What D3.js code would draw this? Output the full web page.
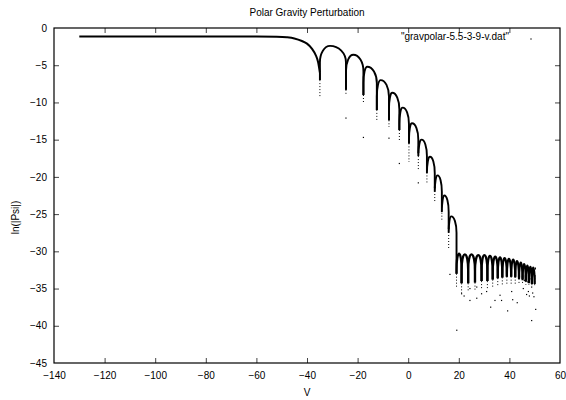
<!DOCTYPE html>
<html><head><meta charset="utf-8">
<script src="https://cdn.jsdelivr.net/npm/d3@7"></script>
<style>
body{margin:0;background:#fff}
svg{display:block}
text{font-family:"Liberation Sans",Arial,Helvetica,sans-serif;font-size:10px;fill:#000}
</style>
</head><body>
<svg id="chart" width="566" height="400"></svg>
<script>
// ---- data ----
const title = "Polar Gravity Perturbation";
const xLabel = "V";
const yLabel = "ln(|Psi|)";
const seriesName = "\"gravpolar-5.5-3-9-v.dat\"";
const xTicks = [-140,-120,-100,-80,-60,-40,-20,0,20,40,60];
const yTicks = [0,-5,-10,-15,-20,-25,-30,-35,-40,-45];

// smooth lead-in before the first zero
const leadV  = [-130, -60, -52, -48, -45, -42, -40, -38, -36.6, -35.6, -34.9];
const leadLn = [-1.15, -1.15, -1.18, -1.25, -1.4, -1.75, -2.1, -2.8, -3.6, -4.6, -6.0];

// zeros (cusps) of the ringing and how far the dense / dotted parts reach
const cuspV = [-34.9,-24.6,-17.7,-12.4,-7.6,-3.5,0.3,4.0,7.4,10.5,13.3,16.0,19.1,
  21.1,23.7,26.4,29.0,31.3,33.4,35.4,37.2,39.0,40.7,42.3,43.8,45.2,46.5,47.7,48.9,50.0];
const cuspDense = [-7.0,-8.3,-9.0,-11.0,-12.4,-13.7,-15.5,-16.8,-19.0,-21.5,-24.0,-27.0,-33.0,
  -34.3,-34.3,-34.2,-34.0,-34.0,-33.8,-33.6,-33.5,-33.4,-33.4,-33.4,-33.3,-33.3,-33.2,-33.2,-33.2,-33.2];
const cuspDotted = [-9.4,-8.9,-10.1,-12.4,-13.3,-15.1,-18.0,-19.1,-21.0,-23.5,-26.0,-29.7,-35.0,
  -35.6,-35.5,-35.4,-35.2,-35.2,-35.0,-34.8,-34.7,-34.6,-34.6,-34.6,-34.5,-34.5,-34.5,-34.5,-34.6,-34.8];

// lobe maxima between consecutive zeros
const peakV = [-30.9,-21.7,-16.2,-10.9,-6.3,-2.2,1.5,5.3,8.6,11.6,14.3,17.0,20.1,
  22.4,25.0,27.7,30.1,32.3,34.4,36.3,38.1,39.8,41.5,43.0,44.5,45.8,47.1,48.3,49.4];
const peakLn = [-2.4,-3.6,-5.2,-7.0,-8.7,-10.7,-12.8,-15.0,-17.3,-19.8,-22.5,-25.3,-30.3,
  -30.4,-30.4,-30.5,-30.5,-30.6,-30.7,-30.8,-30.9,-31.0,-31.1,-31.3,-31.5,-31.7,-31.9,-32.1,-32.2];
const tailV = [50.0, 50.5];
const tailLn = [-32.3, -32.3];

// isolated sample points
const dotV  = [-24.6,-17.7,-7.6,-3.5,4.0,16.5,19.2,22.1,24.4,27.1,29.0,32.6,34.3,36.9,39.3,41.3,43.1,48.8,50.4,49.7,
  21.1,24.4,27.1,31.0,36.3,40.9,45.5,47.5,48.8,46.8,47.9,49.2,45.9,47.3,48.6];
const dotLn = [-12.1,-14.7,-14.8,-18.2,-20.8,-33.1,-40.6,-36.0,-36.6,-36.3,-35.7,-37.5,-36.6,-36.6,-38.0,-36.5,-36.9,-39.3,-37.8,-36.1,
  -35.7,-35.0,-34.8,-35.4,-35.9,-35.4,-35.0,-35.4,-34.8,-35.8,-36.0,-35.6,-33.9,-34.1,-33.7];

// ---- drawing ----
const m = {left:54, right:560, top:28, bottom:363};
const svg = d3.select("#chart");
const x = d3.scaleLinear().domain([-140,60]).range([m.left, m.right]);
const y = d3.scaleLinear().domain([-45,0]).range([m.bottom, m.top]);

const archH = 2.2; // ln units where the arch turns vertical
const fmt = d => d3.format("d")(d).replace("-", "\u2212");

// axes (ticks inward, mirrored)
const gx = svg.append("g").attr("transform",`translate(0,${m.bottom})`)
  .call(d3.axisBottom(x).tickValues(xTicks).tickSizeInner(-5).tickSizeOuter(0).tickPadding(9).tickFormat(fmt));
const gxt = svg.append("g").attr("transform",`translate(0,${m.top})`)
  .call(d3.axisTop(x).tickValues(xTicks).tickSizeInner(-5).tickSizeOuter(0).tickFormat(""));
const gy = svg.append("g").attr("transform",`translate(${m.left},0)`)
  .call(d3.axisLeft(y).tickValues(yTicks).tickSizeInner(-5).tickSizeOuter(0).tickPadding(7).tickFormat(fmt));
const gyr = svg.append("g").attr("transform",`translate(${m.right},0)`)
  .call(d3.axisRight(y).tickValues(yTicks).tickSizeInner(-5).tickSizeOuter(0).tickFormat(""));
[gx,gxt,gy,gyr].forEach(g => {
  g.select(".domain").remove();
  g.selectAll(".tick line").attr("stroke","#444");
  g.selectAll("text").attr("font-family","Liberation Sans, Arial, sans-serif").attr("font-size",10).attr("fill","#000");
});
gx.selectAll(".tick").filter(d => d === 60 || d === -140).select("line").remove();
gxt.selectAll(".tick").filter(d => d === 60 || d === -140).select("line").remove();
gy.selectAll(".tick").filter(d => d === 0 || d === -45).select("line").remove();
gyr.selectAll(".tick").filter(d => d === 0 || d === -45).select("line").remove();

svg.append("rect").attr("x",m.left).attr("y",m.top)
  .attr("width",m.right-m.left).attr("height",m.bottom-m.top)
  .attr("fill","none").attr("stroke","#000").attr("stroke-width",1.2);

const plot = svg.append("g");

// lead-in
plot.append("path")
  .attr("d", d3.line().x((d,i)=>x(leadV[i])).y((d,i)=>y(leadLn[i])).curve(d3.curveMonotoneX)(leadV))
  .attr("fill","none").attr("stroke","#000").attr("stroke-width",2);
plot.append("line").attr("x1",x(cuspV[0])).attr("x2",x(cuspV[0]))
  .attr("y1",y(leadLn[leadLn.length-1])).attr("y2",y(cuspDense[0]))
  .attr("stroke","#000").attr("stroke-width",1.6);

// lobes
for (let i = 0; i < peakV.length; i++) {
  const xa = x(cuspV[i]), xb = x(cuspV[i+1]), xp = x(peakV[i]);
  const yp = y(peakLn[i]), yf = y(peakLn[i] - archH);
  const k = 0.55;
  const p = d3.path();
  p.moveTo(xa, y(cuspDense[i]));
  p.lineTo(xa, yf);
  p.bezierCurveTo(xa, yf + k*(yp - yf), xp - k*(xp - xa), yp, xp, yp);
  p.bezierCurveTo(xp + k*(xb - xp), yp, xb, yf + k*(yp - yf), xb, yf);
  p.lineTo(xb, y(cuspDense[i+1]));
  const floor = cuspV[i] >= 19;
  plot.append("path").attr("d", p.toString())
    .attr("fill","none").attr("stroke","#000").attr("stroke-width", floor ? 2.2 : 1.9);
}
plot.append("path")
  .attr("d", d3.line().x((d,i)=>x(tailV[i])).y((d,i)=>y(tailLn[i]))(tailV))
  .attr("fill","none").attr("stroke","#000").attr("stroke-width",2);

// dotted columns under zeros
plot.selectAll("line.col").data(cuspV).join("line").attr("class","col")
  .attr("x1", d => x(d)).attr("x2", d => x(d))
  .attr("y1", (d,i) => y(cuspDense[i])).attr("y2", (d,i) => y(cuspDotted[i]))
  .attr("stroke","#000").attr("stroke-width",1).attr("stroke-dasharray","1,2");

// isolated points
plot.selectAll("rect.pt").data(dotV).join("rect").attr("class","pt")
  .attr("x", d => x(d) - 0.6).attr("y", (d,i) => y(dotLn[i]) - 0.6)
  .attr("width",1.2).attr("height",1.2).attr("fill","#000");

// titles
svg.append("text").attr("x",(m.left+m.right)/2).attr("y",15.5).attr("text-anchor","middle").text(title);
svg.append("text").attr("x",(m.left+m.right)/2).attr("y",396).attr("text-anchor","middle").text(xLabel);
svg.append("text").attr("transform","translate(18.5,217.5) rotate(-90)").attr("text-anchor","middle").text(yLabel);

// legend
svg.append("text").attr("x",509).attr("y",40).attr("text-anchor","end").text(seriesName);
svg.append("rect").attr("x",530.4).attr("y",38.4).attr("width",1.2).attr("height",1.2).attr("fill","#000");
</script>
</body></html>
